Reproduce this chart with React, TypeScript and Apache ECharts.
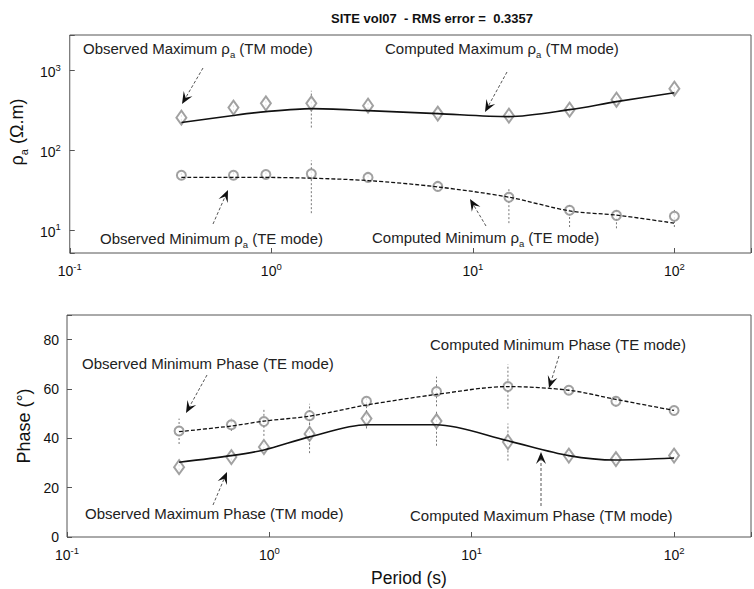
import React, { useEffect, useRef } from 'react';
import * as echarts from 'echarts';

// Periods (s) of the observations
const periods = [0.358, 0.649, 0.94, 1.58, 3.02, 6.7, 15.1, 30.2, 51.6, 100];

// Apparent resistivity (ohm.m) - TM mode (maximum)
const rhoTMObs = [258, 345, 390, 390, 365, 290, 273, 325, 433, 595];
const rhoTMLow = [235, 310, 355, 194, 330, 255, 245, 300, 400, 530];
const rhoTMHigh = [285, 385, 425, 560, 400, 330, 300, 350, 470, 660];
const rhoTMCalc = [224, 275, 307, 335, 316, 290, 266, 325, 410, 530];

// Apparent resistivity (ohm.m) - TE mode (minimum)
const rhoTEObs = [49, 49, 50, 51, 46, 35.5, 26, 17.8, 15.4, 15];
const rhoTELow = [44, 45, 45, 16.4, 41, 31, 12.3, 11, 10.6, 11];
const rhoTEHigh = [54, 54, 55, 75, 52, 40, 33.5, 21, 17.8, 18];
const rhoTECalc = [46, 46, 46, 45, 42, 35, 26, 17.5, 15.5, 12.3];

// Phase (deg) - TE mode (minimum)
const phTEObs = [43, 45.5, 46.8, 49.2, 55, 59, 61, 59.5, 55, 51.3];
const phTELow = [37.7, 43, 41, 44, 49, 53, 52, 58, 53, 50];
const phTEHigh = [48, 48, 52, 54, 57, 65, 70, 61, 57, 53];
const phTECalc = [42.7, 45, 47, 49, 53.5, 57.8, 61, 59.5, 55.8, 51.3];

// Phase (deg) - TM mode (maximum)
const phTMObs = [28.3, 32.4, 36.5, 41.8, 48, 47, 38.5, 33, 31.6, 33];
const phTMLow = [27, 31, 34, 34, 44, 37, 31, 32, 30, 32];
const phTMHigh = [30, 34, 39, 48, 52, 51, 46, 35, 34, 34];
const phTMCalc = [30.3, 33, 35.3, 40.6, 45.5, 45.5, 39, 33, 31.2, 32];

const titleText = 'SITE vol07  - RMS error =  0.3357';
const FONT = '"Liberation Sans", Arial, Helvetica, sans-serif';

const pair = (ys: number[]) => periods.map((p, i) => [p, ys[i]]);

const isPow10 = (v: number) => {
  const e = Math.log10(v);
  return Math.abs(e - Math.round(e)) < 1e-6;
};
const powLabel = (v: number) =>
  isPow10(v) ? `{b|10}{s|${Math.round(Math.log10(v))}}` : '';

const powRich = {
  b: { fontSize: 14, fontFamily: FONT, color: '#111', lineHeight: 17, verticalAlign: 'bottom' },
  s: { fontSize: 9.5, fontFamily: FONT, color: '#111', lineHeight: 10, verticalAlign: 'top' },
};

const errBar = (xi: number, low: number[], high: number[]) => ({
  type: 'custom',
  xAxisIndex: xi,
  yAxisIndex: xi,
  silent: true,
  z: 1,
  data: periods.map((p, i) => [p, low[i], high[i]]),
  encode: { x: 0, y: [1, 2] },
  renderItem: (_params: any, api: any) => {
    const a = api.coord([api.value(0), api.value(1)]);
    const b = api.coord([api.value(0), api.value(2)]);
    return {
      type: 'line',
      shape: { x1: a[0], y1: a[1], x2: b[0], y2: b[1] },
      style: { stroke: '#777', lineWidth: 1, lineDash: [2, 2] },
    };
  },
});

const obs = (xi: number, ys: number[], symbol: string, size: any) => ({
  type: 'scatter',
  xAxisIndex: xi,
  yAxisIndex: xi,
  data: pair(ys),
  symbol,
  symbolSize: size,
  z: 3,
  itemStyle: { color: '#8a8a8a', borderColor: '#8a8a8a', borderWidth: 1 },
});

const calc = (xi: number, ys: number[], dashed: boolean) => ({
  type: 'line',
  xAxisIndex: xi,
  yAxisIndex: xi,
  data: pair(ys),
  smooth: 0.3,
  showSymbol: false,
  z: 4,
  lineStyle: { color: '#111', width: dashed ? 1.3 : 1.6, type: dashed ? [4, 2] : 'solid' },
});

function arrow(x1: number, y1: number, x2: number, y2: number) {
  const dx = x2 - x1, dy = y2 - y1;
  const L = Math.hypot(dx, dy);
  const ux = dx / L, uy = dy / L;
  const nx = -uy, ny = ux;
  const hl = 12, hw = 5;
  const bx = x2 - ux * hl, by = y2 - uy * hl;
  const mx = x2 - ux * hl * 0.6, my = y2 - uy * hl * 0.6;
  return [
    {
      type: 'line',
      shape: { x1, y1, x2: mx, y2: my },
      style: { stroke: '#555', lineWidth: 1, lineDash: [3, 2] },
      z: 10,
    },
    {
      type: 'polygon',
      shape: { points: [[x2, y2], [bx + nx * hw, by + ny * hw], [mx, my], [bx - nx * hw, by - ny * hw]] },
      style: { fill: '#111' },
      z: 10,
    },
  ];
}

const annRich = {
  t: { fontSize: 15, fontFamily: FONT, color: '#222', lineHeight: 18, verticalAlign: 'top' },
  s: { fontSize: 9.5, fontFamily: FONT, color: '#222', lineHeight: 9, verticalAlign: 'bottom' },
};

function label(x: number, y: number, text: string) {
  return {
    type: 'text',
    x,
    y,
    z: 10,
    style: { text, rich: annRich, fontSize: 15, fontFamily: FONT, fill: '#222', verticalAlign: 'middle' },
  };
}

export default function App() {
  const ref = useRef<HTMLDivElement>(null);

  useEffect(() => {
    if (!ref.current) return;
    const chart = echarts.init(ref.current, undefined, { renderer: 'svg' });

    const xAxisBase = (gi: number) => ({
      type: 'log',
      logBase: 10,
      gridIndex: gi,
      min: 0.1,
      max: 240,
      axisLine: { show: false },
      axisTick: { inside: true, length: 5, lineStyle: { color: '#555' } },
      splitLine: { show: false },
      axisLabel: { formatter: powLabel, rich: powRich, margin: 8 },
    });

    const option: any = {
      animation: false,
      backgroundColor: '#fff',
      title: {
        text: titleText,
        left: 326,
        top: 7,
        textStyle: { fontSize: 13, fontWeight: 'bold', fontFamily: FONT, color: '#111' },
      },
      grid: [
        { left: 67, top: 35, width: 684, height: 218, show: true, borderColor: '#555', borderWidth: 1, backgroundColor: 'transparent' },
        { left: 67, top: 315, width: 684, height: 222, show: true, borderColor: '#555', borderWidth: 1, backgroundColor: 'transparent' },
      ],
      xAxis: [
        xAxisBase(0),
        {
          ...xAxisBase(1),
          name: 'Period (s)',
          nameLocation: 'middle',
          nameGap: 32,
          nameTextStyle: { fontSize: 17.5, fontFamily: FONT, color: '#111' },
        },
      ],
      yAxis: [
        {
          type: 'log',
          logBase: 10,
          gridIndex: 0,
          min: 5.2,
          max: 2800,
          axisLine: { show: false },
          axisTick: { inside: true, length: 5, lineStyle: { color: '#555' } },
          splitLine: { show: false },
          axisLabel: { formatter: powLabel, rich: powRich, margin: 9 },
          name: '{g|ρ}{s|a}{g| (Ω.m)}',
          nameLocation: 'middle',
          nameGap: 37,
          nameTextStyle: {
            padding: [0, 0, 0, 24],
            rich: {
              g: { fontSize: 18, fontFamily: FONT, color: '#111', lineHeight: 21, verticalAlign: 'top' },
              s: { fontSize: 11, fontFamily: FONT, color: '#111', lineHeight: 11, verticalAlign: 'bottom' },
            },
          },
        },
        {
          type: 'value',
          gridIndex: 1,
          min: 0,
          max: 90,
          interval: 20,
          axisLine: { show: false },
          axisTick: { inside: true, length: 5, lineStyle: { color: '#555' } },
          splitLine: { show: false },
          axisLabel: {
            formatter: (v: number) => (v % 20 === 0 ? String(v) : ''),
            fontSize: 14,
            fontFamily: FONT,
            color: '#111',
            margin: 8,
          },
          name: 'Phase (°)',
          nameLocation: 'middle',
          nameGap: 29,
          nameTextStyle: { fontSize: 18, fontFamily: FONT, color: '#111' },
        },
      ],
      series: [
        errBar(0, rhoTMLow, rhoTMHigh),
        errBar(0, rhoTELow, rhoTEHigh),
        calc(0, rhoTMCalc, false),
        calc(0, rhoTECalc, true),
        obs(0, rhoTMObs, 'emptyDiamond', [10, 14]),
        obs(0, rhoTEObs, 'emptyCircle', 9),
        errBar(1, phTELow, phTEHigh),
        errBar(1, phTMLow, phTMHigh),
        calc(1, phTECalc, true),
        calc(1, phTMCalc, false),
        obs(1, phTEObs, 'emptyCircle', 9),
        obs(1, phTMObs, 'emptyDiamond', [10, 14]),
      ],
      graphic: [
        label(83, 50, '{t|Observed Maximum ρ}{s|a}{t| (TM mode)}'),
        ...arrow(203, 68, 182, 104),
        label(385, 50, '{t|Computed Maximum ρ}{s|a}{t| (TM mode)}'),
        ...arrow(507, 72, 485, 112),
        label(100, 240, '{t|Observed Minimum ρ}{s|a}{t| (TE mode)}'),
        ...arrow(213, 224, 228, 190),
        label(372, 239, '{t|Computed Minimum ρ}{s|a}{t| (TE mode)}'),
        ...arrow(486, 226, 470, 199),
        label(82, 365, '{t|Observed Minimum Phase (TE mode)}'),
        ...arrow(207, 375, 186, 413),
        label(430, 346, '{t|Computed Minimum Phase (TE mode)}'),
        ...arrow(559, 356, 549, 388),
        label(85, 515, '{t|Observed Maximum Phase (TM mode)}'),
        ...arrow(213, 505, 227, 472),
        label(410, 517, '{t|Computed Maximum Phase (TM mode)}'),
        ...arrow(541, 506, 541, 452),
      ],
    };

    chart.setOption(option);
    return () => chart.dispose();
  }, []);

  return (
    <div
      ref={ref}
      style={{ position: 'absolute', left: 0, top: 0, width: 754, height: 589, background: '#fff' }}
    />
  );
}
